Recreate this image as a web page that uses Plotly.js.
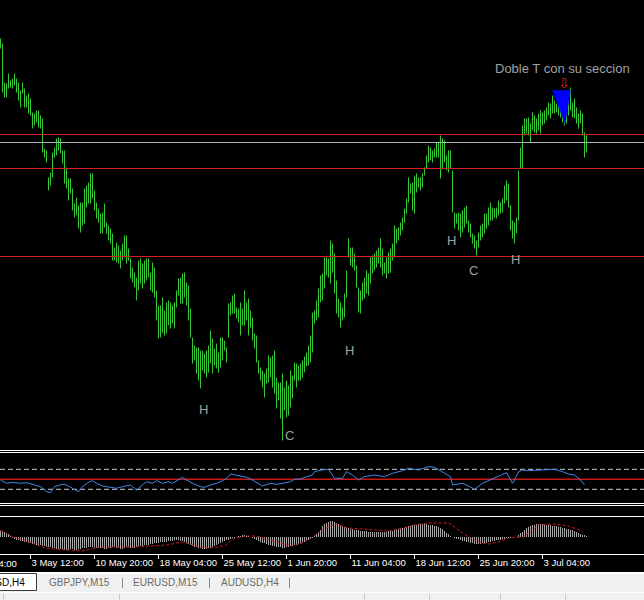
<!DOCTYPE html>
<html><head><meta charset="utf-8">
<script src="https://cdn.plot.ly/plotly-3.0.1.min.js"></script>
<style>html,body{margin:0;padding:0;background:#000;overflow:hidden}#chart{width:644px;height:600px}</style>
</head><body><div id="chart"></div>
<script>
// ---- price bars (H4), high / low per bar ----
const high = [
422,417,378,377,387,380,382,387,382,378,
370,378,372,365,367,362,348,347,350,350,
345,342,312,310,283,288,308,313,322,323,
322,310,310,293,282,282,272,257,263,255,
258,258,272,275,278,287,287,270,258,252,
247,248,257,238,235,232,227,213,218,215,
210,217,225,225,212,202,193,188,183,200,
202,197,200,202,202,188,198,193,170,155,
155,163,150,158,160,158,155,158,170,182,
183,187,188,178,175,152,123,115,113,113,
110,110,107,110,115,130,122,112,117,108,
123,123,120,113,157,158,165,167,153,152,
158,152,170,158,162,150,143,127,125,100,
93,90,87,92,105,103,105,110,83,78,
78,87,73,80,75,90,85,98,97,95,
97,100,104,108,115,125,148,150,160,172,
185,187,203,203,202,220,217,207,180,162,
158,153,167,190,222,213,213,207,195,173,
170,178,183,190,187,203,205,207,210,213,
222,212,198,203,208,212,217,235,232,233,
238,243,252,262,283,277,278,285,287,283,
283,287,293,305,315,313,310,312,318,318,
325,322,320,305,310,310,290,248,247,248,
247,250,253,255,240,237,227,225,220,228,
235,237,247,247,253,258,253,252,253,260,
258,262,275,280,277,255,240,238,243,290,
313,335,342,342,343,337,348,345,342,347,
350,348,350,353,358,357,365,360,357,360,
353,350,348,352,363,373,358,362,353,347,
350,347,328,325];
const low = [
412,368,363,363,372,373,372,375,368,360,
353,367,353,353,347,345,332,335,338,333,
332,308,303,298,270,275,283,303,305,310,
307,297,277,272,260,267,250,243,245,232,
228,235,237,253,257,257,262,250,242,238,
227,227,233,227,220,217,200,200,198,197,
192,200,203,197,200,182,178,173,160,170,
177,172,177,180,183,170,168,163,140,122,
123,128,125,127,135,132,137,132,153,165,
157,157,163,155,140,123,97,100,87,80,
72,90,87,83,88,97,87,95,92,88,
93,100,110,98,123,145,147,147,142,138,
125,135,135,140,125,133,120,112,98,87,
80,73,63,77,78,83,73,67,52,60,
42,20,50,43,45,53,62,80,73,80,
80,83,88,94,95,98,108,137,140,143,
158,160,172,185,183,177,188,167,147,143,
133,140,143,163,203,195,193,190,173,148,
147,160,162,167,165,177,187,190,193,197,
193,185,187,182,187,188,200,203,217,220,
225,230,238,247,258,267,250,247,268,273,
270,273,285,292,298,300,298,303,303,303,
282,292,298,290,288,292,248,232,237,230,
223,228,233,237,228,223,217,212,205,213,
220,223,227,232,235,240,240,243,242,245,
247,248,257,260,253,230,222,217,227,240,
292,292,325,327,325,318,330,328,327,330,
327,335,337,340,345,342,347,347,348,345,
343,338,335,337,345,350,343,342,337,332,
337,325,303,308];

// ---- horizontal levels on price window ----
const redLevels = [326, 292, 204];
const grayLevels = [318];

// ---- triangle object (bar index, price) ----
const triIdx = [276, 285, 282.25, 276];
const triVal = [370, 370, 337, 370];

// ---- text objects ----
const labelText = ['H', 'C', 'H', 'H', 'C', 'H'];
const labelIdx = [101.25, 144.25, 174.25, 225.25, 236.25, 257.25];
const labelVal = [51, 25, 110, 220, 190, 201];
const noteText = 'Doble T con su seccion';
const noteIdx = 246.75, noteVal = 392;
const arrowIdx = 281.5, arrowVal = 378;

// ---- RSI ----
const rsiIdx = [0,3,6,10,13,16,20,23,25,27,31,33,36,39,41,44,46,48,51,55,58,61,65,68,71,73,76,78,81,84,86,89,91,93,96,100,102,106,108,111,113,115,117,120,123,126,129,131,135,138,141,145,147,150,153,156,157,161,
164,167,171,173,176,179,182,187,192,196,201,204,209,214,217,222,225,226,231,234,237,241,244,247,251,253,256,257,259,261,264,271,277,281,284,287,290,292];
const rsiVal = [48.6,42,44,42,43.3,40,35.3,25.3,23.3,35.3,40,38.6,32,25.3,35.3,44,47.3,42,36.6,34,32,35.3,38.6,28.6,38.6,45.3,42,47.3,42,45.3,42,48.6,54,48.6,42,35.3,34,40,42,47.3,52,60.6,58.6,56.6,54,48.6,42,36.6,42,40,42,45.3,50,50.6,55.3,58.6,65.3,69,
70,52,52,65.3,58.6,48.6,55.3,58.6,55.3,62,67.3,72,68.6,75.3,74,62,55.3,38.6,42,36.6,30,42,47.3,52,58.6,63.3,42,48.6,65.3,68.6,67.3,68.6,70,65.3,60.6,58.6,48.6,38.6];
const rsiLevels = [70, 30];
const rsiMid = [50];

// ---- MACD ----
const macdHist = [
6,6,5,4,3, 1,-1,-2,
-3,-3,-4,-4,-5,-5,-6,-6,-7,
-7,-8,-8,-8,-9,-9,-10,-10,-10,
-11,-11,-12,-12,-12,-12,-13,-13,-13,-12,-12,-13,-13,-12,-12,-11,
-11,-11,-10,-10,-10,-11,-11,-11,-11,
-11,-12,-12,-11,-11,-10,-10,-11,-11,-12,-12,-11,-10,-10,-11,-11,-11,-10,-10,-9,-9,-8,-8,-8,
-7,-7,-6,-6,-6,-5,-5,-5,-5,-4,-4,-4,-3,-3,
-3,-4,-4,-5,-6,
-7,-8,-9,-10,-10,-11,-11,-12,-12,-12,-11,-11,-10,
-9,-8,-7,-6,-5,-4,-3,-3,-2,
-1,-1,0,1,1,2,2,1,1,0,-1,
-2,-3,-4,-5,-6,-6,-7,-8,-8,-9,-9,-10,-10,-10,
-11,-11,-10,-10,-9,-9,-8,-8,-7,-6,-5,-5,
-4,-3,-2,-1,1,3,5,7,
11,13,14,15,16,16,15,14,13,12,
11,10,9,9,8,8,7,7,7,6,
6,6,6,5,5,5,5,5,5,5,5,5,5,6,6,6,7,7,8,8,
9,10,10,11,11,12,12,12,13,13,13,13,13,12,12,
12,11,11,10,9,8,
6,4,3,1,0,
-1,-2,-2,-3,-4,-4,-5,-5,-6,-6,
-7,-7,-7,-7,-6,-6,-6,
-5,-5,-4,-4,-3,-3,-3,-2,-2,
-1,-1,-1,0,0,0,
2,4,5,7,9,10,11,
12,12,13,13,13,13,12,12,12,12,11,11,11,10,10,
9,9,8,8,7,7,6,
5,4,3,2,2,1];
const signalIdx = [0,5,10,16,21,26,33,41,45,50,58,66,75,83,91,100,106,113,116,123,128,133,140,146,151,156,161,167,174,181,187,194,201,207,214,221,224,227,231,236,241,244,249,254,261,264,269,277,284,291];
const signalVal = [7,1,-2,-6,-10,-12,-13,-14,-12,-10,-10,-10,-9,-8,-5,-10,-11,-8,-2,1,1,-2,-6,-9,-6,0,7,13,9,8,7,6,9,12,14,14,14,10,4,-2,-6,-7,-5,-1,0,4,12,13,11,6];

// ---- time axis ----
const tickIdx = [15,47,79,111,143,175,207,239,271];
const tickText = ['3 May 12:00','10 May 20:00','18 May 04:00','25 May 12:00','1 Jun 20:00','11 Jun 04:00','18 Jun 12:00','25 Jun 20:00','3 Jul 04:00'];
const cutTickText = '26 Apr 04:00';

// ---- terminal tabs ----
const activeTab = 'GBPUSD,H4';
const tabs = ['GBPJPY,M15', 'EURUSD,M15', 'AUDUSD,H4'];

// ================= build =================
const H = 600, W = 644;
const py = p => 1 - p / H;   // pixel row -> paper fraction
const px = p => p / W;
const idx = high.map((_, i) => i);

const traces = [
  {type:'bar', x: idx, base: low, y: high.map((h,i)=>h-low[i]), width: 0.42,
   marker:{color:'#40f040', line:{width:0}}, xaxis:'x', yaxis:'y', hoverinfo:'skip'},
  {type:'scatter', mode:'lines', x: triIdx, y: triVal, fill:'toself', fillcolor:'#0000ff',
   line:{color:'#0000ff', width:0.5}, xaxis:'x', yaxis:'y', hoverinfo:'skip'},
  {type:'scatter', mode:'lines', x: rsiIdx, y: rsiVal, line:{color:'#3f87ea', width:1},
   xaxis:'x', yaxis:'y2', hoverinfo:'skip'},
  {type:'bar', x: idx, y: macdHist, width: 0.42, marker:{color:'#c8c8c8', line:{width:0}},
   xaxis:'x', yaxis:'y3', hoverinfo:'skip'},
  {type:'scatter', mode:'lines', x: signalIdx, y: signalVal, line:{color:'#d01818', width:1, dash:'3px,2px'},
   xaxis:'x', yaxis:'y3', hoverinfo:'skip'}
];

const shapes = [];
redLevels.forEach(v => shapes.push({type:'line', xref:'paper', x0:0, x1:1, yref:'y', y0:v, y1:v, line:{color:'#d42020', width:1}}));
grayLevels.forEach(v => shapes.push({type:'line', xref:'paper', x0:0, x1:1, yref:'y', y0:v, y1:v, line:{color:'#a8b4c0', width:1}}));
rsiLevels.forEach(v => shapes.push({type:'line', xref:'paper', x0:0, x1:1, yref:'y2', y0:v, y1:v, layer:'below', line:{color:'#d0d0d0', width:1, dash:'5px,3px'}}));
rsiMid.forEach(v => shapes.push({type:'line', xref:'paper', x0:0, x1:1, yref:'y2', y0:v, y1:v, layer:'below', line:{color:'#c81818', width:1.5}}));
[450.5, 452.5, 503.5, 505.5, 516.5].forEach(p => shapes.push({type:'line', xref:'paper', x0:0, x1:1, yref:'paper', y0:py(p), y1:py(p), line:{color:'#ffffff', width:1}}));
// bottom band and tab bar
shapes.push({type:'rect', xref:'paper', yref:'paper', x0:0, x1:1, y0:py(574), y1:py(572), fillcolor:'#ffffff', line:{width:0}});
shapes.push({type:'rect', xref:'paper', yref:'paper', x0:0, x1:1, y0:0, y1:py(574), fillcolor:'#f0f0f0', line:{width:0}});
shapes.push({type:'rect', xref:'paper', yref:'paper', x0:px(-5), x1:px(36.5), y0:py(590.5), y1:py(573.5), fillcolor:'#ffffff', line:{color:'#3a3a3a', width:1}});
[122, 209, 289].forEach(p => shapes.push({type:'line', xref:'paper', yref:'paper', x0:px(p+0.5), x1:px(p+0.5), y0:py(588), y1:py(578), line:{color:'#8a8a8a', width:1}}));
shapes.push({type:'line', xref:'paper', yref:'paper', x0:0, x1:1, y0:py(592.5), y1:py(592.5), line:{color:'#ffffff', width:1}});
[3, 119, 364, 429, 500, 565].forEach(p => shapes.push({type:'line', xref:'paper', yref:'paper', x0:px(p+0.5), x1:px(p+0.5), y0:py(600), y1:py(594), line:{color:'#c8c8c8', width:1}}));

const annotations = [];
const lblFont = {family:'Liberation Sans, Arial, sans-serif', size:13, color:'#a0a0a0'};
labelText.forEach((t,i) => annotations.push({xref:'x', yref:'y', x:labelIdx[i], y:labelVal[i], text:t, showarrow:false, font:lblFont, xanchor:'center', yanchor:'middle'}));
annotations.push({xref:'x', yref:'y', x:noteIdx, y:noteVal, text:noteText, showarrow:false, font:lblFont, xanchor:'left', yanchor:'middle', borderpad:0});
annotations.push({xref:'x', yref:'y', x:arrowIdx, y:arrowVal, text:'⇩', showarrow:false, font:{family:'DejaVu Sans', size:14, color:'#e01414'}, xanchor:'center', yanchor:'middle'});
annotations.push({xref:'paper', yref:'paper', x:px(18), y:py(563.5), text:cutTickText, showarrow:false, font:{family:'Liberation Sans, Arial', size:9.5, color:'#ffffff'}, xanchor:'right', yanchor:'middle', borderpad:0});
const tabFont = {family:'Liberation Sans, Arial, sans-serif', size:10, color:'#6a6a6a'};
annotations.push({xref:'paper', yref:'paper', x:px(26), y:py(582.5), text:activeTab, showarrow:false, font:{family:'Liberation Sans, Arial, sans-serif', size:10, color:'#000000'}, xanchor:'right', yanchor:'middle', borderpad:0});
[48, 132, 220].forEach((p,i) => annotations.push({xref:'paper', yref:'paper', x:px(p), y:py(582.5), text:tabs[i], showarrow:false, font:tabFont, xanchor:'left', yanchor:'middle', borderpad:0}));

const layout = {
  width: W, height: H, margin:{l:0, r:0, t:0, b:0, pad:0},
  paper_bgcolor:'#000000', plot_bgcolor:'#000000', showlegend:false, hovermode:false,
  xaxis:{range:[-0.25, 321.75], domain:[0,1], anchor:'free', position:py(553.5),
    showline:true, linecolor:'#ffffff', linewidth:1, ticks:'outside', ticklen:4, tickcolor:'#ffffff', tickwidth:1,
    tickvals: tickIdx, ticktext: tickText, ticklabelposition:'outside right', tickangle:0,
    tickfont:{family:'Liberation Sans, Arial, sans-serif', size:9.5, color:'#ffffff'},
    showgrid:false, zeroline:false, fixedrange:true},
  yaxis:{domain:[py(449), 1], range:[11.5, 460.5], visible:false, fixedrange:true},
  yaxis2:{domain:[py(504.3), py(454.3)], range:[0, 100], visible:false, fixedrange:true},
  yaxis3:{domain:[py(552), py(518)], range:[-15, 19], visible:false, fixedrange:true},
  shapes: shapes, annotations: annotations
};

Plotly.newPlot('chart', traces, layout, {staticPlot:true, displayModeBar:false});
</script>
</body></html>
